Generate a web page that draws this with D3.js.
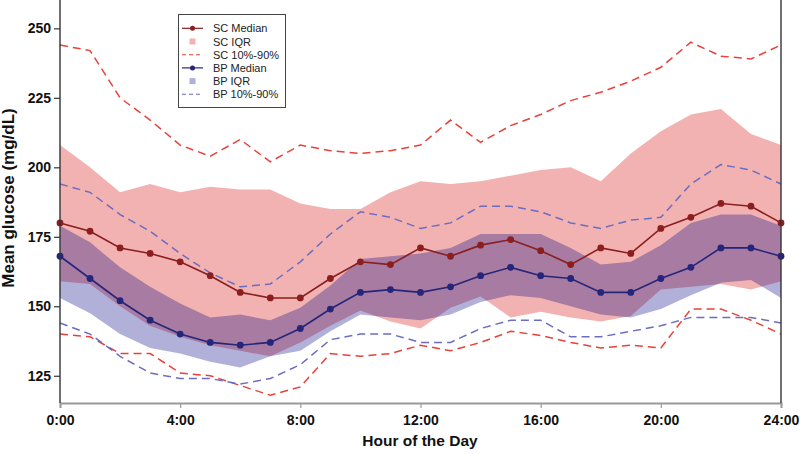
<!DOCTYPE html>
<html>
<head>
<meta charset="utf-8">
<script src="https://cdn.jsdelivr.net/npm/d3@7"></script>
<style>
  html, body { margin: 0; padding: 0; background: #fff; }
  svg text { font-family: "Liberation Sans", Arial, Helvetica, sans-serif; }
</style>
</head>
<body>
<svg id="chart" width="800" height="454"></svg>
<script>
// ---- data ----
const hours = d3.range(0, 25);
const xTickHours = [0, 4, 8, 12, 16, 20, 24];
const xTickLabels = ["0:00", "4:00", "8:00", "12:00", "16:00", "20:00", "24:00"];
const yTicks = [125, 150, 175, 200, 225, 250];

const scMedian = [180,177,171,169,166,161,155,153,153,160,166,165,171,168,172,174,170,165,171,169,178,182,187,186,180];
const scQ3     = [208,200,191,194,191,193,192,192,187,185,185,191,195,194,195,197,199,200,195,205,213,219,221,212,208];
const scQ1     = [159,158,150,143,139,136,134,132,137,143,148.5,144.5,142,149.5,153.5,146,148,146,144.5,146.5,156,157,158,156,159];
const scP90    = [244,242,225,217,208,204,210,202,208,206,205,206,208,217,209,215,219,224,227,231,236,245,240,239,244];
const scP10    = [140,139,133,133,126,125,121.5,118,121,133,132,133,136,134,137,141,139.5,137,135,136,135,149,149,145,140];

const bpMedian = [168,160,152,145,140,137,136,137,142,149,155,156,155,157,161,164,161,160,155,155,160,164,171,171,168];
const bpQ3     = [179,173,164,157,151,146,147,145,149.5,157.5,167,168,169,171,176,176,176,171,165,166,172,180,183,183,179];
const bpQ1     = [153,147.5,140,135,133,130,128,132,134,141,147,146,145,147,151.5,154,153,150,147,146,149,154,158.5,159.5,153];
const bpP90    = [194,191,183,177,169,162,157,158,166,176,184,182,178,180,186,186,184,180,178,181,182,194,201,199,194];
const bpP10    = [144,140,132,126,124,124,122,124,129,138,140,140,137,137,142,145,145,139,139,141,143,146,146,146,144];

const legendLabels = ["SC Median", "SC IQR", "SC 10%-90%", "BP Median", "BP IQR", "BP 10%-90%"];

// ---- styles ----
const C = {
  scLine: "#8B1E1E", scFill: "#F3B2B2", scDash: "#E8413A",
  bpLine: "#25257A", bpFill: "rgba(0,0,128,0.31)", bpDash: "#6C6CC0",
  axis: "#333", baseAxis: "#999"
};

const svg = d3.select("#chart");
const x = d3.scaleLinear().domain([0, 24]).range([60, 781]);
const y = d3.scaleLinear().domain([115.2, 260.2]).range([403, 0]);

const band = (lo, hi) => d3.area().x((d, i) => x(hours[i])).y0((d, i) => y(lo[i])).y1((d, i) => y(hi[i]));
const line = d3.line().x((d, i) => x(hours[i])).y(d => y(d));

// IQR bands
svg.append("path").datum(scQ1).attr("d", band(scQ1, scQ3)).attr("fill", C.scFill);
svg.append("path").datum(bpQ1).attr("d", band(bpQ1, bpQ3)).attr("fill", C.bpFill);

// 10-90 dashed
[[scP90, C.scDash], [scP10, C.scDash], [bpP90, C.bpDash], [bpP10, C.bpDash]].forEach(([arr, col]) => {
  svg.append("path").datum(arr).attr("d", line).attr("fill", "none")
    .attr("stroke", col).attr("stroke-width", 1.5).attr("stroke-dasharray", "8,5");
});

// medians
[[scMedian, C.scLine], [bpMedian, C.bpLine]].forEach(([arr, col]) => {
  svg.append("path").datum(arr).attr("d", line).attr("fill", "none")
    .attr("stroke", col).attr("stroke-width", 1.6);
  svg.append("g").selectAll("circle").data(arr).join("circle")
    .attr("cx", (d, i) => x(hours[i])).attr("cy", d => y(d)).attr("r", 3.4).attr("fill", col);
});

// axes
const yAxis = svg.append("g").attr("transform", "translate(60,0)")
  .call(d3.axisLeft(y).tickValues(yTicks).tickSize(6).tickPadding(3));
yAxis.select(".domain").remove();
yAxis.selectAll(".tick line").attr("stroke", C.axis).attr("stroke-width", 1.2);
yAxis.selectAll(".tick text").attr("font-size", 14).attr("font-weight", "bold").attr("fill", "#111")
  .attr("font-family", "Liberation Sans, Arial, sans-serif");

const xAxis = svg.append("g").attr("transform", "translate(0,403)")
  .call(d3.axisBottom(x).tickValues(xTickHours).tickFormat((d, i) => xTickLabels[i]).tickSize(5).tickPadding(7));
xAxis.select(".domain").attr("stroke", C.baseAxis).attr("stroke-width", 2);
xAxis.selectAll(".tick line").attr("stroke", C.baseAxis).attr("stroke-width", 1.2);
xAxis.selectAll(".tick text").attr("font-size", 14).attr("font-weight", "bold").attr("fill", "#111")
  .attr("font-family", "Liberation Sans, Arial, sans-serif");

// frame lines left/right
svg.append("line").attr("x1", 60).attr("x2", 60).attr("y1", 0).attr("y2", 403).attr("stroke", C.axis).attr("stroke-width", 1.4);
svg.append("line").attr("x1", 781).attr("x2", 781).attr("y1", 0).attr("y2", 403).attr("stroke", C.axis).attr("stroke-width", 1.4);

// titles
svg.append("text").attr("x", 420).attr("y", 446).attr("text-anchor", "middle")
  .attr("font-size", 15.5).attr("font-weight", "bold").attr("fill", "#111").text("Hour of the Day");
svg.append("text").attr("transform", "translate(14,198) rotate(-90)").attr("text-anchor", "middle")
  .attr("font-size", 17).attr("font-weight", "bold").attr("fill", "#111").text("Mean glucose (mg/dL)");

// legend
const lg = svg.append("g");
lg.append("rect").attr("x", 178.5).attr("y", 14.5).attr("width", 107).attr("height", 93)
  .attr("fill", "#fff").attr("stroke", "#444").attr("stroke-width", 1);
const legendStyles = [
  {type: "median", col: C.scLine}, {type: "fill", col: C.scFill}, {type: "dash", col: C.scDash},
  {type: "median", col: C.bpLine}, {type: "fill", col: "#B0B0D8"}, {type: "dash", col: C.bpDash}
];
legendLabels.forEach((lab, i) => {
  const yy = 28.3 + i * 13.2;
  const s = legendStyles[i];
  if (s.type === "median") {
    lg.append("line").attr("x1", 182).attr("x2", 203).attr("y1", yy).attr("y2", yy).attr("stroke", s.col).attr("stroke-width", 1.2);
    lg.append("circle").attr("cx", 192.5).attr("cy", yy).attr("r", 2.5).attr("fill", s.col);
  } else if (s.type === "fill") {
    lg.append("rect").attr("x", 189.5).attr("y", yy - 3).attr("width", 6).attr("height", 6).attr("fill", s.col);
  } else {
    lg.append("line").attr("x1", 182).attr("x2", 203).attr("y1", yy).attr("y2", yy).attr("stroke", s.col)
      .attr("stroke-width", 1.1).attr("stroke-dasharray", "4,3");
  }
  lg.append("text").attr("x", 213).attr("y", yy + 4).attr("font-size", 11).attr("fill", "#222").text(lab);
});
</script>
</body>
</html>
